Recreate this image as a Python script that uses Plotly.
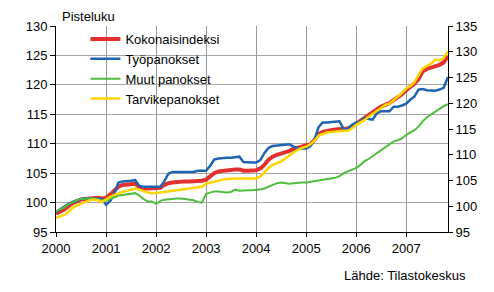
import pandas as pd
import plotly.graph_objects as go

# Monthly index values, Jan 2000 - Nov 2007 (2000 = 100)
months = pd.date_range("2000-01-01", periods=95, freq="MS")

kokonaisindeksi = [
    98.1, 98.4, 98.8, 99.4, 99.9, 100.2, 100.5, 100.6, 100.7, 100.8, 100.8, 100.7,
    100.8, 101.4, 102.0, 102.7, 103.0, 103.1, 103.2, 103.2, 102.6, 102.4, 102.4, 102.4,
    102.4, 102.5, 103.0, 103.3, 103.4, 103.5, 103.5, 103.6, 103.6, 103.6, 103.6, 103.7,
    103.9, 104.5, 105.0, 105.3, 105.4, 105.5, 105.6, 105.6, 105.6, 105.4, 105.4, 105.4,
    105.5, 105.8, 106.4, 107.3, 107.8, 108.1, 108.3, 108.6, 108.8, 109.1, 109.3, 109.4,
    109.6, 109.9, 110.6, 111.6, 112.0, 112.2, 112.3, 112.4, 112.5, 112.5, 112.6, 112.9,
    113.4, 113.8, 114.3, 114.9, 115.3, 115.7, 116.3, 116.6, 116.9, 117.4, 117.9, 118.4,
    119.1, 119.6, 120.2, 121.0, 122.3, 122.7, 122.9, 123.1, 123.4, 123.8, 124.9,
]
tyopanokset = [
    98.4, 98.9, 99.4, 99.8, 100.1, 100.4, 100.6, 100.7, 100.7, 100.7, 100.7, 100.6,
    99.6, 100.3, 101.5, 103.4, 103.6, 103.6, 103.7, 103.8, 102.8, 102.7, 102.7, 102.7,
    102.7, 102.7, 103.6, 104.9, 105.2, 105.2, 105.3, 105.3, 105.2, 105.2, 105.4, 105.4,
    105.4, 106.3, 107.3, 107.5, 107.6, 107.6, 107.6, 107.7, 107.8, 106.9, 106.8, 106.8,
    106.8, 107.2, 108.4, 109.3, 109.6, 109.7, 109.7, 109.8, 109.9, 109.5, 109.2, 109.2,
    109.2, 109.6, 110.6, 112.8, 113.6, 113.6, 113.7, 113.8, 113.8, 112.5, 112.5, 113.2,
    113.6, 113.7, 114.4, 114.2, 114.1, 115.2, 115.5, 115.5, 115.5, 116.3, 116.3, 116.5,
    116.8, 117.5, 118.0, 119.2, 119.3, 119.1, 119.1, 119.0, 119.2, 119.5, 121.3,
]
muut_panokset = [
    98.5, 98.8, 99.2, 99.7, 100.1, 100.4, 100.6, 100.7, 100.7, 100.7, 100.5, 100.4,
    100.3, 100.6, 100.9, 101.2, 101.3, 101.4, 101.6, 101.6, 101.2, 100.6, 100.2, 100.2,
    99.8, 100.3, 100.5, 100.6, 100.7, 100.7, 100.7, 100.6, 100.5, 100.4, 100.1, 100.0,
    101.5, 101.7, 101.9, 101.9, 101.8, 101.7, 101.8, 102.2, 102.0, 102.1, 102.1, 102.1,
    102.1, 102.2, 102.4, 102.7, 103.1, 103.3, 103.4, 103.3, 103.2, 103.3, 103.4, 103.4,
    103.4, 103.5, 103.7, 103.8, 103.8, 103.9, 104.0, 104.2, 104.5, 105.0, 105.3, 105.6,
    105.9, 106.4, 107.0, 107.4, 107.9, 108.4, 108.9, 109.5, 110.0, 110.4, 110.6, 110.9,
    111.5, 111.9, 112.3, 112.9, 113.8, 114.5, 115.0, 115.4, 115.9, 116.4, 116.7,
]
tarvikepanokset = [
    97.4, 97.6, 97.9, 98.4, 99.1, 99.5, 99.8, 100.0, 100.4, 100.5, 100.4, 100.1,
    100.6, 101.0, 101.3, 101.6, 101.8, 102.0, 102.2, 102.4, 102.2, 101.9, 101.7, 101.6,
    101.6, 101.7, 101.8, 101.9, 102.0, 102.1, 102.2, 102.3, 102.4, 102.5, 102.6, 102.7,
    103.2, 103.4, 103.5, 103.7, 103.9, 104.0, 104.1, 104.1, 104.1, 104.1, 104.0, 104.0,
    104.1, 104.4, 105.1, 105.9, 106.4, 106.7, 107.0, 107.5, 108.0, 108.5, 109.0, 109.3,
    109.5, 109.9, 110.5, 111.4, 111.7, 111.9, 112.0, 112.1, 112.1, 112.2, 112.2, 112.6,
    113.2, 113.6, 114.0, 114.6, 115.1, 115.6, 116.2, 116.6, 116.8, 117.4, 118.0, 118.6,
    119.4, 119.8, 120.4, 121.6, 122.8, 123.2, 123.6, 124.3, 124.2, 124.5, 125.7,
]

series_names = ["Kokonaisindeksi", "Työpanokset", "Muut panokset", "Tarvikepanokset"]
series_values = [kokonaisindeksi, tyopanokset, muut_panokset, tarvikepanokset]
series_colors = ["#e3302f", "#1f64b1", "#4fbd3e", "#ffd500"]
series_widths = [4, 2.5, 2, 2.5]

year_ticks = [f"{y}-01-01" for y in range(2000, 2008)]
year_labels = [str(y) for y in range(2000, 2008)]
left_ticks = list(range(95, 131, 5))
right_ticks = list(range(95, 136, 5))
grid_ticks = list(range(100, 126, 5))

FONT = "Liberation Sans, Arial, sans-serif"

fig = go.Figure()
for name, vals, col, w in zip(series_names, series_values, series_colors, series_widths):
    fig.add_trace(go.Scatter(x=months, y=vals, name=name, mode="lines",
                             line=dict(color=col, width=w)))
# empty helper trace so the right-hand scale is drawn
fig.add_trace(go.Scatter(x=[], y=[], yaxis="y2", showlegend=False,
                         hoverinfo="skip", mode="lines"))

fig.update_layout(
    template="none",
    width=494, height=292,
    margin=dict(l=56, r=46, t=26, b=60),
    paper_bgcolor="white", plot_bgcolor="white",
    font=dict(family=FONT, size=13, color="black"),
    showlegend=True,
    legend=dict(x=0.075, y=1.01, xanchor="left", yanchor="top",
                bgcolor="rgba(0,0,0,0)", borderwidth=0,
                font=dict(size=13), tracegroupgap=0, itemwidth=30),
    xaxis=dict(type="date", range=["2000-01-01", "2007-11-02"],
               tickvals=year_ticks, ticktext=year_labels,
               ticks="outside", ticklen=4, tickcolor="black",
               showline=True, linecolor="black", linewidth=1,
               showgrid=True, gridcolor="#999999", gridwidth=1,
               zeroline=False, fixedrange=True),
    yaxis=dict(range=[95, 130], tickvals=left_ticks,
               ticks="outside", ticklen=5, tickcolor="black",
               showline=True, linecolor="black", linewidth=1,
               showgrid=False, zeroline=False,
               minor=dict(tickmode="array", tickvals=grid_ticks, showgrid=True,
                          gridcolor="#a8a8a8", gridwidth=1, ticks="")),
    yaxis2=dict(range=[95, 135], tickvals=right_ticks, overlaying="y", side="right",
                anchor="x", ticks="outside", ticklen=4, tickcolor="black",
                showline=True, linecolor="black", linewidth=1,
                showgrid=False, zeroline=False),
    annotations=[
        dict(text="Pisteluku", xref="paper", yref="paper", x=0.01, y=1.044,
             xanchor="left", yanchor="middle", showarrow=False,
             font=dict(size=13, family=FONT)),
        dict(text="Lähde: Tilastokeskus", xref="paper", yref="paper", x=1.051, y=-0.209,
             xanchor="right", yanchor="middle", showarrow=False,
             font=dict(size=13, family=FONT)),
    ],
)

fig.write_html("out.html")
